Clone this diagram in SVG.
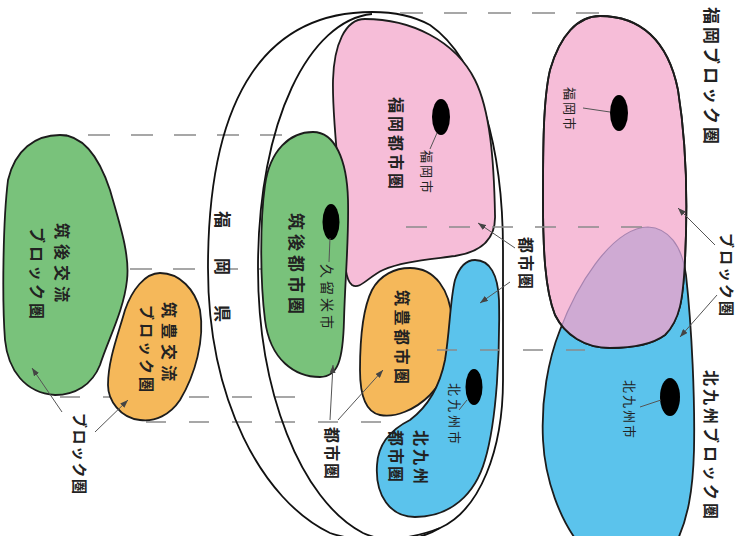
<svg xmlns="http://www.w3.org/2000/svg" width="749" height="536" viewBox="0 0 749 536">
<defs>
<style>
.t{font-family:"Noto Sans CJK JP","Noto Sans CJK SC",sans-serif;fill:#222;dominant-baseline:central}
.b{font-weight:700}
.n{font-weight:400}
.sh{stroke:#1c1c1c;stroke-width:1.8}
.ell{fill:none;stroke:#111;stroke-width:1.8}
.dash{stroke:#8a8a8a;stroke-width:1.6;fill:none}
.lead{stroke:#555;stroke-width:1;fill:none}
.arr{stroke:#555;stroke-width:1;fill:none;marker-end:url(#ah)}
.dot{fill:#000}
</style>
<marker id="ah" viewBox="0 0 8 6" refX="8" refY="3" markerWidth="8" markerHeight="6" markerUnits="userSpaceOnUse" orient="auto">
<path d="M0,0 L8,3 L0,6 z" fill="#444"/>
</marker>
<path id="pinkR" d="M600,16 C640,16 668,40 678,90 C686,140 688,200 685,260 C683,300 680,320 665,335 C650,346 630,348 610,348 C585,348 565,335 555,315 C545,290 543,250 543,200 C543,150 543,100 550,70 C560,35 578,16 600,16 Z"/>
<path id="blueR" d="M648,227 C668,228 682,245 686,275 C692,330 695,400 694,450 C693,490 688,520 675,545 L580,545 C560,520 545,480 543,440 C541,400 548,360 560,330 C575,290 610,228 648,227 Z"/>
<clipPath id="pinkClip"><use href="#pinkR"/></clipPath>
</defs>
<rect width="749" height="536" fill="#fff"/>

<g id="guides-under">
<line class="dash" x1="60" y1="135" x2="284" y2="135" stroke-dasharray="22 21" stroke-dashoffset="15"/>
<line class="dash" x1="130" y1="269" x2="375" y2="269" stroke-dasharray="22 21"/>
<line class="dash" x1="60" y1="397" x2="298" y2="397" stroke-dasharray="20 23"/>
<line class="dash" x1="146" y1="422" x2="385" y2="422" stroke-dasharray="20 23"/>
</g>

<g id="fukuoka-pref">
<path class="ell" d="M372,12 C270,12 208,90 208,268 C208,400 262,500 330,533 C365,545 410,540 440,528 C480,510 503,450 503,380 L503,250 C503,150 480,60 430,25 C410,14 390,12 372,12 Z"/>
<path class="ell" d="M372,14 C310,20 258,120 258,268 C258,390 300,500 363,533 C390,545 420,540 440,528"/>
<text class="t b" transform="translate(223,211) rotate(90)" font-size="17" letter-spacing="30">福岡県</text>
</g>

<g id="chikugo-block">
<path class="sh" fill="#79c27b" d="M60,135 C85,135 100,160 110,190 C120,225 130,255 127,280 C124,310 108,340 100,365 C92,385 75,395 55,395 C25,393 8,370 5,340 C2,300 3,220 8,180 C15,150 35,135 60,135 Z"/>
<text class="t b" transform="translate(63,223) rotate(90)" font-size="16" letter-spacing="5">筑後交流</text>
<text class="t b" transform="translate(38,227) rotate(90)" font-size="16" letter-spacing="3">ブロック圏</text>
</g>

<g id="chikuho-block">
<path class="sh" fill="#f5b85a" d="M160,273 C180,273 195,290 200,310 C205,340 195,375 180,400 C170,415 155,422 140,420 C120,418 108,400 108,385 C108,360 118,335 125,310 C132,290 145,273 160,273 Z"/>
<text class="t b" transform="translate(170,302) rotate(90)" font-size="16" letter-spacing="5">筑豊交流</text>
<text class="t b" transform="translate(147,305) rotate(90)" font-size="15" letter-spacing="3">ブロック圏</text>
</g>

<g id="fukuoka-metro">
<path class="sh" fill="#f6bdd8" d="M365,19 C410,19 455,40 475,80 C490,110 494,160 495,215 C496,240 480,252 455,256 C425,260 400,262 383,270 C368,277 360,290 352,285 C343,278 345,250 343,220 C340,180 332,120 333,80 C334,45 345,19 365,19 Z"/>
<ellipse class="dot" cx="441" cy="117" rx="9" ry="18"/>
<text class="t b" transform="translate(397,97) rotate(90)" font-size="16" letter-spacing="3">福岡都市圏</text>
<text class="t n" transform="translate(427,150) rotate(90)" font-size="13" letter-spacing="2">福岡市</text>
</g>

<g id="chikugo-metro">
<path class="sh" fill="#79c27b" d="M313,132 C335,132 347,160 348,200 C349,240 345,280 344,320 C343,360 338,377 320,377 C295,377 270,360 265,320 C260,280 260,220 265,185 C270,150 290,132 313,132 Z"/>
<ellipse class="dot" cx="331" cy="222" rx="8.5" ry="18"/>
<text class="t b" transform="translate(297,213) rotate(90)" font-size="17" letter-spacing="4">筑後都市圏</text>
<text class="t n" transform="translate(328,264) rotate(90)" font-size="14" letter-spacing="3">久留米市</text>
</g>

<g id="chikuho-metro">
<path class="sh" fill="#f5b85a" d="M410,268 C435,268 450,290 452,320 C455,350 445,380 430,395 C415,410 395,418 380,415 C365,412 360,395 360,370 C360,340 362,310 372,290 C380,275 395,268 410,268 Z"/>
<text class="t b" transform="translate(403,290) rotate(90)" font-size="16" letter-spacing="3.5">筑豊都市圏</text>
</g>

<g id="kitakyushu-metro">
<path class="sh" fill="#5bc3ec" d="M475,260 C490,260 498,275 499,300 C500,350 497,420 485,460 C475,495 450,517 415,517 C390,517 375,495 377,465 C378,445 390,430 410,420 C430,405 440,385 445,360 C450,330 450,300 455,280 C460,265 467,260 475,260 Z"/>
<ellipse class="dot" cx="474" cy="387" rx="8.5" ry="18"/>
<text class="t n" transform="translate(455,383) rotate(90)" font-size="13" letter-spacing="3">北九州市</text>
<text class="t b" transform="translate(422,430) rotate(90)" font-size="16" letter-spacing="3">北九州</text>
<text class="t b" transform="translate(397,430) rotate(90)" font-size="16" letter-spacing="2">都市圏</text>
</g>

<g id="kitakyushu-block">
<use href="#blueR" fill="#5bc3ec" stroke="#1c1c1c" stroke-width="1.8"/>
</g>
<g id="fukuoka-block">
<use href="#pinkR" fill="#f6bdd8" stroke="#1c1c1c" stroke-width="1.8"/>
<use href="#blueR" fill="#cfaad3" stroke="#a784b0" stroke-width="1.2" clip-path="url(#pinkClip)"/>
<use href="#pinkR" fill="none" stroke="#1c1c1c" stroke-width="1.8"/>
<ellipse class="dot" cx="619" cy="113" rx="9" ry="18"/>
<ellipse class="dot" cx="670" cy="397" rx="10" ry="19"/>
<text class="t n" transform="translate(570,87) rotate(90)" font-size="13" letter-spacing="2">福岡市</text>
<text class="t n" transform="translate(630,380) rotate(90)" font-size="13" letter-spacing="2">北九州市</text>
<text class="t b" transform="translate(712,7) rotate(90)" font-size="17" letter-spacing="3">福岡ブロック圏</text>
<text class="t b" transform="translate(712,370) rotate(90)" font-size="16" letter-spacing="3">北九州ブロック圏</text>
</g>

<g id="guides-over">
<line class="dash" x1="400" y1="13" x2="602" y2="13" stroke-dasharray="23 21"/>
<line class="dash" x1="406" y1="227" x2="650" y2="227" stroke-dasharray="21 22"/>
<line class="dash" x1="437" y1="350" x2="585" y2="350" stroke-dasharray="20 23"/>
</g>

<g id="labels">
<text class="t b" transform="translate(80,413) rotate(90)" font-size="15" letter-spacing="1.5">ブロック圏</text>
<text class="t b" transform="translate(333,427) rotate(90)" font-size="16" letter-spacing="2">都市圏</text>
<text class="t b" transform="translate(527,237) rotate(90)" font-size="16" letter-spacing="2">都市圏</text>
<text class="t b" transform="translate(727,233) rotate(90)" font-size="15" letter-spacing="2">ブロック圏</text>
</g>

<g id="connectors">
<line class="arr" x1="62" y1="412" x2="32" y2="368"/>
<line class="arr" x1="95" y1="432" x2="128" y2="400"/>
<line class="arr" x1="330" y1="420" x2="333" y2="365"/>
<line class="arr" x1="338" y1="420" x2="383" y2="370"/>
<line class="arr" x1="515" y1="248" x2="478" y2="223"/>
<line class="arr" x1="510" y1="282" x2="480" y2="303"/>
<line class="arr" x1="715" y1="245" x2="678" y2="208"/>
<line class="arr" x1="717" y1="295" x2="680" y2="337"/>
<line class="lead" x1="437" y1="133" x2="430" y2="149"/>
<line class="lead" x1="330" y1="238" x2="329" y2="262"/>
<line class="lead" x1="467" y1="400" x2="459" y2="410"/>
<line class="lead" x1="610" y1="112" x2="583" y2="108"/>
<line class="lead" x1="661" y1="400" x2="640" y2="407"/>
</g>
</svg>
